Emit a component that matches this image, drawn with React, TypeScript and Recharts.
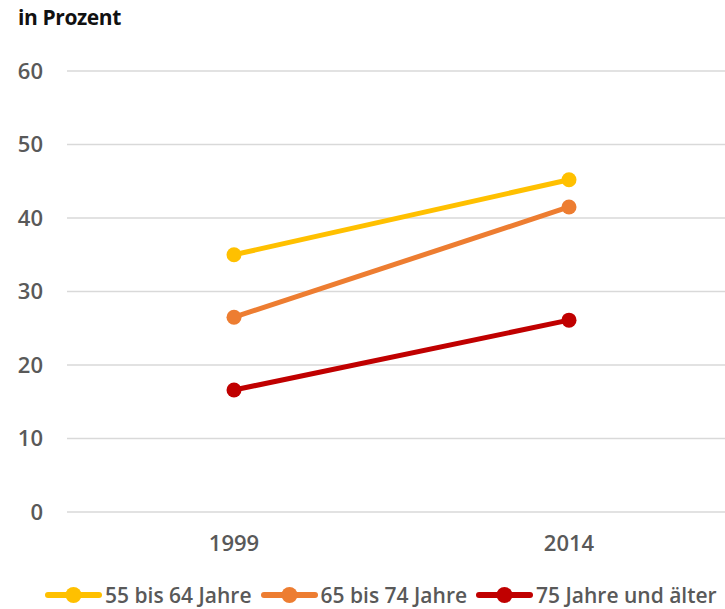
import React from "react";
import { LineChart, Line, XAxis, YAxis, CartesianGrid, Legend } from "recharts";

const years = ["1999", "2014"];
const age55to64 = [35.0, 45.2];
const age65to74 = [26.5, 41.5];
const age75plus = [16.6, 26.1];
const yTicks = [0, 10, 20, 30, 40, 50, 60];

const seriesNames = ["55 bis 64 Jahre", "65 bis 74 Jahre", "75 Jahre und älter"];
const seriesColors = ["#FFC000", "#ED7D31", "#C00000"];

const data = years.map((y, i) => ({
  year: y,
  s1: age55to64[i],
  s2: age65to74[i],
  s3: age75plus[i],
}));

const FONT = "'Open Sans', 'Liberation Sans', sans-serif";
const GRAY = "#595959";

const renderLegend = (props: any) => {
  const { payload } = props;
  return (
    <div
      style={{
        display: "flex",
        alignItems: "center",
        height: 28,
        paddingLeft: 45,
        fontFamily: FONT,
        fontSize: 21,
        fontWeight: 600,
        letterSpacing: 0,
        color: GRAY,
        whiteSpace: "nowrap",
      }}
    >
      {(payload || []).map((entry: any, i: number) => (
        <div key={i} style={{ display: "flex", alignItems: "center", marginRight: 9 }}>
          <svg width={57} height={20} style={{ display: "block" }}>
            <line x1={3} y1={10} x2={54} y2={10} stroke={entry.color} strokeWidth={6} strokeLinecap="round" />
            <circle cx={28.5} cy={10} r={8} fill={entry.color} />
          </svg>
          <span style={{ marginLeft: 3, lineHeight: "28px" }}>{entry.value}</span>
        </div>
      ))}
    </div>
  );
};

export default function App() {
  return (
    <div style={{ position: "absolute", left: 0, top: 0, width: 725, height: 609, overflow: "hidden", background: "#fff" }}>
      <div
        style={{
          position: "absolute",
          left: 18,
          top: 7,
          fontFamily: FONT,
          fontWeight: 700,
          fontSize: 21,
          lineHeight: "21px",
          letterSpacing: -0.4,
          color: "#111",
          zIndex: 2,
        }}
      >
        in Prozent
      </div>
      <LineChart
        width={725}
        height={609}
        data={data}
        margin={{ top: 71, right: 0, bottom: 31, left: 0 }}
      >
        <CartesianGrid vertical={false} stroke="#d9d9d9" strokeWidth={1.5} />
        <XAxis
          dataKey="year"
          axisLine={false}
          tickLine={false}
          tickSize={0}
          tickMargin={23}
          height={38}
          padding={{ left: 167, right: 156 }}
          tick={{ fill: GRAY, fontSize: 22, fontFamily: FONT, fontWeight: 600 }}
        />
        <YAxis
          domain={[0, 60]}
          ticks={yTicks}
          axisLine={false}
          tickLine={false}
          tickSize={0}
          tickMargin={24}
          width={67}
          tick={{ fill: GRAY, fontSize: 22, fontFamily: FONT, fontWeight: 600 }}
        />
        <Legend
          verticalAlign="bottom"
          content={renderLegend}
          wrapperStyle={{ left: 0, bottom: 0, width: 725, height: 28 }}
        />
        <Line dataKey="s1" name={seriesNames[0]} stroke={seriesColors[0]} strokeWidth={5}
          dot={{ r: 7.5, fill: seriesColors[0], stroke: seriesColors[0], strokeWidth: 0 }}
          activeDot={false} isAnimationActive={false} />
        <Line dataKey="s2" name={seriesNames[1]} stroke={seriesColors[1]} strokeWidth={5}
          dot={{ r: 7.5, fill: seriesColors[1], stroke: seriesColors[1], strokeWidth: 0 }}
          activeDot={false} isAnimationActive={false} />
        <Line dataKey="s3" name={seriesNames[2]} stroke={seriesColors[2]} strokeWidth={5}
          dot={{ r: 7.5, fill: seriesColors[2], stroke: seriesColors[2], strokeWidth: 0 }}
          activeDot={false} isAnimationActive={false} />
      </LineChart>
    </div>
  );
}
